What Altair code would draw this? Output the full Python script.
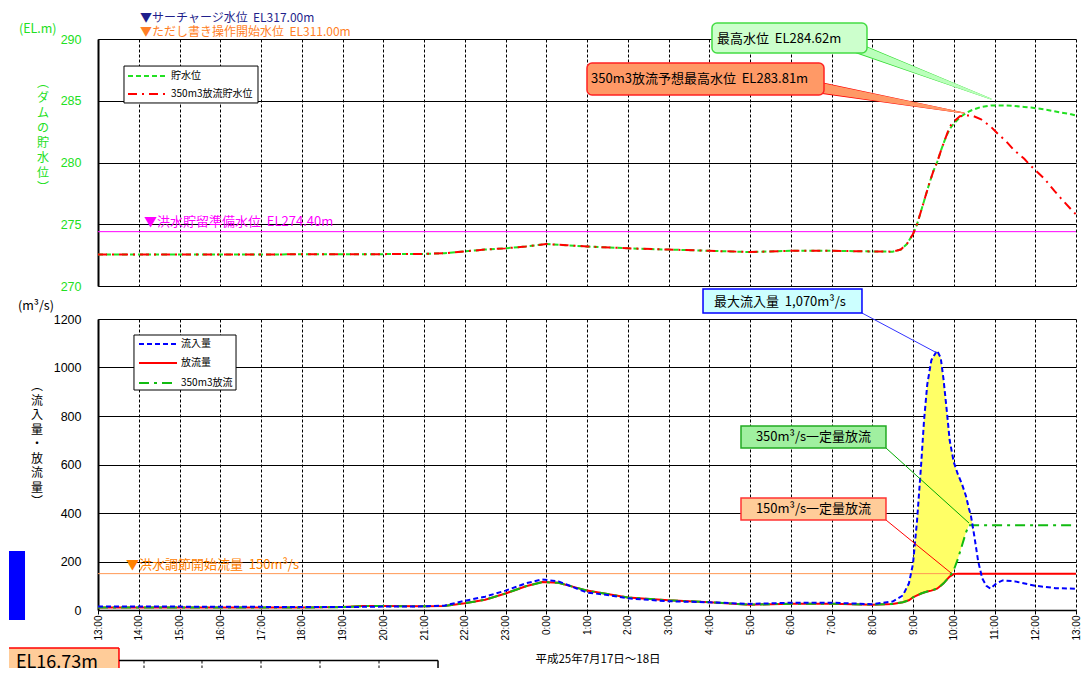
import altair as alt
import pandas as pd

JP = "Noto Sans CJK JP"
NUM = "Liberation Sans"

# ---------------- data ----------------
# hours elapsed since 13:00 on 17 July (0 = 13:00, 24 = 13:00 on 18 July)
hour_ticks = list(range(25))
level_ticks = [270, 275, 280, 285, 290]
flow_ticks = [0, 200, 400, 600, 800, 1000, 1200]

level_hours = [0, 1, 2, 3, 4, 5, 6, 7, 8, 8.5, 9, 9.5, 10, 10.5, 11, 11.5, 12, 13, 14, 15,
               16, 17, 18, 19, 19.5, 19.7, 19.85, 20.0, 20.1, 20.2, 20.3, 20.4, 20.5, 20.6,
               20.7, 20.8, 20.9, 21.0, 21.15, 21.3, 21.45, 21.67, 21.91, 22.09, 22.29, 22.48,
               22.73, 22.9, 23.22, 23.47, 23.63, 23.88, 24.0]
level_storage = [272.55, 272.55, 272.55, 272.55, 272.55, 272.57, 272.58, 272.58, 272.6, 272.65,
                 272.8, 272.95, 273.05, 273.2, 273.4, 273.3, 273.2, 273.05, 272.95, 272.85,
                 272.75, 272.85, 272.85, 272.8, 272.78, 272.95, 273.4, 274.2, 275.0, 276.1,
                 277.2, 278.3, 279.3, 280.1, 281.1, 282.0, 282.7, 283.15, 283.65, 284.0, 284.25,
                 284.5, 284.62, 284.62, 284.61, 284.58, 284.5, 284.45, 284.3, 284.15, 284.05,
                 283.9, 283.8]
level_350 = [272.55, 272.55, 272.55, 272.55, 272.55, 272.57, 272.58, 272.58, 272.6, 272.65,
             272.8, 272.95, 273.05, 273.2, 273.4, 273.3, 273.2, 273.05, 272.95, 272.85,
             272.75, 272.85, 272.85, 272.8, 272.78, 272.95, 273.4, 274.2, 275.0, 276.1,
             277.2, 278.3, 279.3, 280.1, 281.1, 282.0, 282.9, 283.3, 283.75, 283.81, 283.8,
             283.5, 282.9, 282.3, 281.7, 281.0, 280.3, 279.7, 278.7, 277.7, 277.1, 276.2, 275.8]

flow_hours = [0, 1, 2, 3, 4, 5, 6, 6.5, 7, 8, 8.5, 9, 9.5, 10, 10.5, 10.9, 11.3, 12, 12.5, 13,
              14, 15, 16, 17, 18, 19, 19.5, 19.75, 19.9, 20.0, 20.1, 20.2, 20.27, 20.35, 20.45,
              20.59, 20.68, 20.75, 20.83, 20.9, 21.0, 21.1, 21.2, 21.3, 21.37, 21.42, 21.5,
              21.6, 21.7, 21.8, 21.9, 22.05, 22.2, 22.5, 23.0, 23.5, 24.0]
inflow = [14, 14, 14, 13, 13, 12, 12, 13, 14, 15, 18, 38, 55, 80, 110, 126, 118, 72, 62, 48,
          36, 32, 25, 30, 30, 24, 35, 60, 110, 190, 370, 600, 780, 930, 1030,
          1070, 1040, 950, 820, 700, 610, 560, 520, 470, 420, 390, 310,
          200, 130, 100, 88, 110, 122, 118, 100, 90, 88]
outflow = [10, 10, 10, 10, 10, 10, 12, 16, 16, 15, 17, 28, 42, 68, 98, 115, 112, 80, 66, 52,
           40, 32, 22, 26, 26, 22, 25, 32, 40, 52, 60, 68, 72, 76, 80,
           88, 100, 110, 125, 138, 148, 150, 150, 150, 150, 150, 150,
           150, 150, 150, 150, 150, 150, 150, 150, 150, 150]
release_350 = [10, 10, 10, 10, 10, 10, 12, 16, 16, 15, 17, 28, 42, 68, 98, 115, 112, 80, 66, 52,
               40, 32, 22, 26, 26, 22, 25, 32, 40, 52, 60, 68, 72, 76, 80,
               88, 100, 110, 125, 138, 165, 210, 265, 320, 350, 350, 350,
               350, 350, 350, 350, 350, 350, 350, 350, 350, 350]

SP = "\u00a0\u00a0"
surcharge_label = "▼サーチャージ水位" + SP + "EL317.00m"
proviso_label = "▼ただし書き操作開始水位" + SP + "EL311.00m"
prep_level = 274.4
prep_label = "▼洪水貯留準備水位" + SP + "EL274.40m"
control_flow = 150
control_label = "▼洪水調節開始流量" + SP + "150m³/s"
max_level_label = "最高水位" + SP + "EL284.62m"
max_level_350_label = "350m3放流予想最高水位" + SP + "EL283.81m"
max_inflow_label = "最大流入量" + SP + "1,070m³/s"
const350_label = "350m³/s一定量放流"
const150_label = "150m³/s一定量放流"
top_legend = ["貯水位", "350m3放流貯水位"]
bottom_legend = ["流入量", "放流量", "350m3放流"]
top_unit = "(EL.m)"
top_title = "︵ダムの貯水位︶"
bottom_unit = "(m³/s)"
bottom_title = "︵流入量・放流量︶"
date_label = "平成25年7月17日～18日"
fragment_label = "EL16.73m"

# ---------------- styles ----------------
GREEN_L = "#22E022"
RED = "#FF0000"
BLUE = "#0000FF"
GREEN_R = "#11BB11"
ORANGE = "#FF7F27"
MAGENTA = "#FF00FF"

XS = alt.Scale(domain=[0, 24], nice=False, zero=False)
TOPS = alt.Scale(domain=[270, 290], nice=False, zero=False)
BOTS = alt.Scale(domain=[0, 1200], nice=False, zero=False)


def ex():
    return alt.X("h:Q", scale=XS, axis=None, title=None)


def ey(ys):
    return alt.Y("v:Q", scale=ys, axis=None, title=None)


def rect(ys, h1, h2, v1, v2, **mark):
    df = pd.DataFrame({"h": [h1], "h2": [h2], "v": [v1], "v2": [v2]})
    return alt.Chart(df).mark_rect(**mark).encode(x=ex(), x2="h2:Q", y=ey(ys), y2="v2:Q")


def text(ys, h, v, t, **mark):
    df = pd.DataFrame({"h": [h], "v": [v], "t": [t]})
    opts = dict(font=JP, fontSize=13, align="left", baseline="middle", color="black")
    opts.update(mark)
    return alt.Chart(df).mark_text(**opts).encode(x=ex(), y=ey(ys), text="t:N")


def seg(ys, hs, vs, **mark):
    df = pd.DataFrame({"h": hs, "v": vs, "i": list(range(len(hs)))})
    return alt.Chart(df).mark_line(**mark).encode(x=ex(), y=ey(ys), order="i:Q")


def hrule(ys, h1, h2, v, **mark):
    df = pd.DataFrame({"h": [h1], "h2": [h2], "v": [v]})
    return alt.Chart(df).mark_rule(**mark).encode(x=ex(), x2="h2:Q", y=ey(ys))


def vrule(ys, h, v1, v2, **mark):
    df = pd.DataFrame({"h": [h], "v": [v1], "v2": [v2]})
    return alt.Chart(df).mark_rule(**mark).encode(x=ex(), y=ey(ys), y2="v2:Q")


def wedge(ys, h1, v1, h2, v2, w, fill, edge):
    out = []
    for width, tip, col in [(w + 2, 1, edge), (w, 0, fill)]:
        df = pd.DataFrame({"h": [h1, h2], "v": [v1, v2], "w": [width, tip], "i": [0, 1]})
        out.append(alt.Chart(df).mark_trail(color=col).encode(
            x=ex(), y=ey(ys), size=alt.Size("w:Q", scale=None, legend=None), order="i:Q"))
    return out


# ---------------- top panel ----------------
top_df = pd.DataFrame({"h": level_hours, "storage": level_storage, "s350": level_350})

top_x_axis = alt.Axis(values=hour_ticks, grid=True, gridDash=[3, 2], gridColor="black",
                      gridWidth=1, labels=False, ticks=False, domain=False, title=None)
top_y_axis = alt.Axis(values=level_ticks, grid=True, gridColor="black", gridWidth=1,
                      ticks=False, domain=True, domainColor="black", domainWidth=2,
                      labelColor=GREEN_L, labelFont=NUM, labelFontSize=12.5, labelPadding=17,
                      title=None)

storage_line = alt.Chart(top_df).mark_line(color=GREEN_L, strokeWidth=2, strokeDash=[5, 3]).encode(
    x=alt.X("h:Q", scale=XS, axis=top_x_axis, title=None),
    y=alt.Y("storage:Q", scale=TOPS, axis=top_y_axis, title=None))
s350_line = alt.Chart(top_df).mark_line(color=RED, strokeWidth=2, strokeDash=[9, 5, 2, 5]).encode(
    x=alt.X("h:Q", scale=XS, axis=None, title=None),
    y=alt.Y("s350:Q", scale=TOPS, axis=None, title=None))

top_layers = [
    storage_line,
    rect(TOPS, -2.184, -2.16, 292.43, 292.40, color="white"),
    hrule(TOPS, 0, 24, prep_level, color=MAGENTA, strokeWidth=1),
    s350_line,
    text(TOPS, 1.129, 275.18, prep_label, color=MAGENTA),
    text(TOPS, 1.031, 291.72, surcharge_label, color="#1F1F8C", fontSize=12),
    text(TOPS, 1.031, 290.55, proviso_label, color=ORANGE, fontSize=12),
    text(TOPS, -1.94, 290.81, top_unit, color=GREEN_L, fontSize=12.5),
    text(TOPS, -1.35, 286.84, "\n".join(list(top_title)), color=GREEN_L, fontSize=12,
         align="center", baseline="top", lineBreak="\n", lineHeight=15),
    # legend
    rect(TOPS, 0.638, 3.926, 287.81, 284.82, fill="white", stroke="black", strokeWidth=1),
    seg(TOPS, [0.736, 1.718], [287.0, 287.0], color=GREEN_L, strokeWidth=2, strokeDash=[5, 3]),
    seg(TOPS, [0.736, 1.718], [285.55, 285.55], color=RED, strokeWidth=2, strokeDash=[9, 5, 2, 5]),
    text(TOPS, 1.791, 287.0, top_legend[0], fontSize=10),
    text(TOPS, 1.791, 285.55, top_legend[1], fontSize=10),
]
top_layers += wedge(TOPS, 18.503, 289.43, 21.914, 285.14, 9, "#BBFFBB", "#33DD33")
top_layers += [
    rect(TOPS, 15.067, 18.871, 291.296, 288.866, fill="#CCFFCC", stroke="#44DD44",
         strokeWidth=1.5, cornerRadius=5),
    text(TOPS, 15.19, 290.0, max_level_label),
]
top_layers += wedge(TOPS, 17.62, 286.11, 21.252, 284.008, 10, "#FF9966", "#FF0000")
top_layers += [
    rect(TOPS, 12.0, 17.816, 288.057, 285.466, fill="#FF9966", stroke="#FF2222",
         strokeWidth=1.5, cornerRadius=5),
    text(TOPS, 12.098, 286.79, max_level_350_label),
]

top = alt.layer(*top_layers).resolve_axis(x="independent", y="independent").properties(
    width=978, height=247)

# ---------------- bottom panel ----------------
flow_df = pd.DataFrame({"h": flow_hours, "inflow": inflow, "outflow": outflow, "r350": release_350})

bot_x_axis = alt.Axis(values=hour_ticks, labelExpr="((datum.value + 13) % 24) + ':00'",
                      labelAngle=270, labelFont=NUM, labelFontSize=10, labelColor="black",
                      labelPadding=1, labelFlush=False, labelOverlap=False,
                      ticks=True, tickSize=4, tickColor="black",
                      domain=True, domainColor="black", domainWidth=1.5,
                      grid=True, gridColor="black", gridDash=[3, 2], gridWidth=1, title=None)
bot_y_axis = alt.Axis(values=flow_ticks, format="d", grid=True, gridColor="black", gridWidth=1,
                      ticks=False, domain=True, domainColor="black", domainWidth=2,
                      labelFont=NUM, labelFontSize=12.5, labelColor="black", labelPadding=17,
                      title=None)

fill_area = alt.Chart(flow_df).transform_filter(
    "datum.h >= 19.75 && datum.h <= 21.6"
).transform_calculate(lo="min(datum.inflow, datum.r350)").mark_area(color="#FFFF66").encode(
    x=alt.X("h:Q", scale=XS, axis=bot_x_axis, title=None),
    y=alt.Y("inflow:Q", scale=BOTS, axis=bot_y_axis, title=None),
    y2="lo:Q")


def flow_line(field, **mark):
    return alt.Chart(flow_df).mark_line(**mark).encode(
        x=alt.X("h:Q", scale=XS, axis=None, title=None),
        y=alt.Y(f"{field}:Q", scale=BOTS, axis=None, title=None))


bottom_layers = [
    fill_area,
    hrule(BOTS, 0, 24, control_flow, color="#FF9955", strokeWidth=1),
    flow_line("outflow", color=RED, strokeWidth=2),
    flow_line("r350", color=GREEN_R, strokeWidth=2, strokeDash=[10, 5, 3, 5]),
    flow_line("inflow", color=BLUE, strokeWidth=2, strokeDash=[5, 3]),
    text(BOTS, 0.687, 185.6, control_label, color="#FF8000"),
    text(BOTS, -1.963, 1253.6, bottom_unit, fontSize=12.5),
    text(BOTS, -1.497, 944.3, "\n".join(list(bottom_title)), fontSize=12,
         align="center", baseline="top", lineBreak="\n", lineHeight=14.5),
    # legend
    rect(BOTS, 0.883, 3.387, 1134.0, 907.2, fill="white", stroke="black", strokeWidth=1),
    seg(BOTS, [1.006, 1.939], [1096.9, 1096.9], color=BLUE, strokeWidth=2, strokeDash=[5, 3]),
    seg(BOTS, [1.006, 1.939], [1018.6, 1018.6], color=RED, strokeWidth=2),
    seg(BOTS, [1.006, 1.939], [936.1, 936.1], color=GREEN_R, strokeWidth=2, strokeDash=[10, 5, 3, 5]),
    text(BOTS, 2.037, 1096.9, bottom_legend[0], fontSize=10),
    text(BOTS, 2.037, 1018.6, bottom_legend[1], fontSize=10),
    text(BOTS, 2.037, 936.1, bottom_legend[2], fontSize=10),
    # callouts
    seg(BOTS, [18.748, 20.589], [1224.7, 1059.8], color="#3333FF", strokeWidth=1),
    rect(BOTS, 14.847, 18.748, 1323.7, 1224.7, fill="#CCFFFF", stroke=BLUE, strokeWidth=1.5),
    text(BOTS, 15.117, 1271.3, max_inflow_label),
    seg(BOTS, [19.337, 21.374], [668.0, 358.8], color="#00AA00", strokeWidth=1),
    rect(BOTS, 15.779, 19.337, 758.8, 668.0, fill="#A0F0A0", stroke="#22AA22", strokeWidth=1.5),
    text(BOTS, 17.558, 713.4, const350_label, align="center"),
    seg(BOTS, [19.337, 20.933], [371.1, 152.6], color=RED, strokeWidth=1),
    rect(BOTS, 15.779, 19.337, 461.9, 371.1, fill="#FFCC99", stroke="#FF3333", strokeWidth=1.5),
    text(BOTS, 17.558, 416.5, const150_label, align="center"),
    # date caption
    text(BOTS, 12.27, -206.2, date_label, fontSize=11.5, align="center"),
    # fragments of the neighbouring chart
    rect(BOTS, -2.184, -1.791, 243.3, -41.2, color=BLUE),
    rect(BOTS, -2.184, 0.515, -156.7, -239, color="#FFCC99"),
    hrule(BOTS, -2.184, 0.515, -156.7, color=RED, strokeWidth=1.5),
    vrule(BOTS, 0.515, -156.7, -239, color=RED, strokeWidth=1.5),
    text(BOTS, 0.0, -220.6, fragment_label, fontSize=18, align="right"),
    hrule(BOTS, 0.515, 8.344, -208.2, color="black", strokeWidth=1.5),
    vrule(BOTS, 8.344, -208.2, -239, color="black", strokeWidth=1.5),
]
for hh in [1.129, 2.552, 4.0, 5.448, 6.896]:
    bottom_layers.append(vrule(BOTS, hh, -208.2, -239, color="black", strokeWidth=1,
                               strokeDash=[3, 2]))

bottom = alt.layer(*bottom_layers).resolve_axis(x="independent", y="independent").properties(
    width=978, height=291)

chart = alt.vconcat(top, bottom, spacing=33, bounds="flush").properties(
    padding={"left": 0, "top": 0, "right": 0, "bottom": 0}, background="white"
).configure_view(stroke=None)

chart.save("out.html", embed_options={"renderer": "svg", "actions": False})
